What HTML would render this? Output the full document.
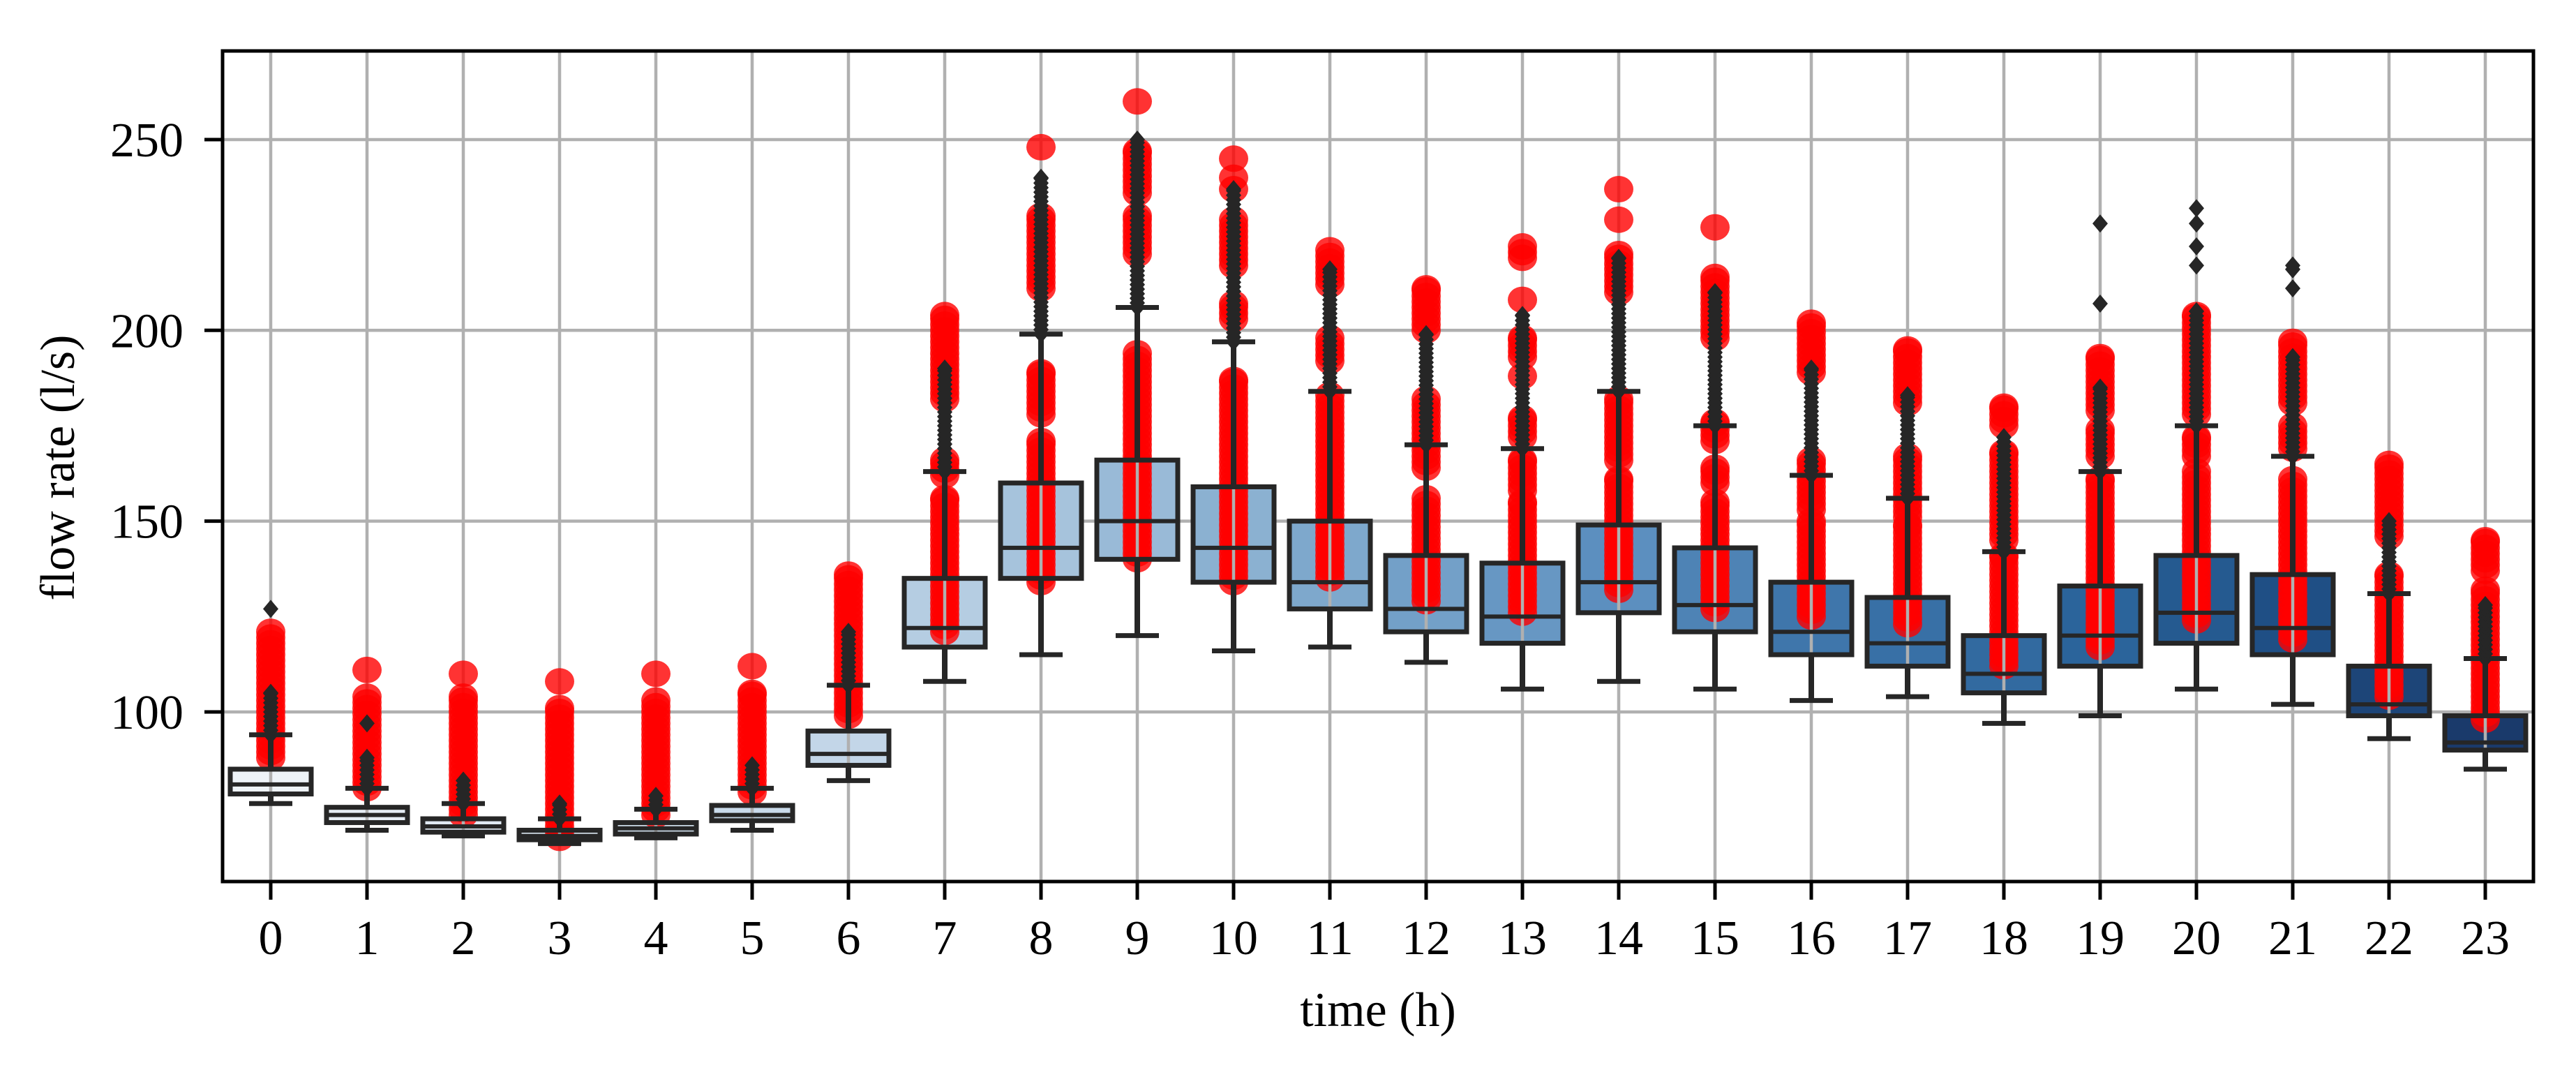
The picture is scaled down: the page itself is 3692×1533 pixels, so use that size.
<!DOCTYPE html>
<html><head><meta charset="utf-8"><style>
body{margin:0;background:#fff}
svg{display:block;font-family:"Liberation Serif",serif}
</style></head><body>
<svg id="chart" width="3692" height="1533" viewBox="0 0 3692 1533" xmlns="http://www.w3.org/2000/svg">
<rect width="3692" height="1533" fill="#fff"/>
<g id="grid"></g>
<g id="boxes"></g>
<g id="reds"></g>
<g id="grid2"></g>
<g id="whisk"></g>
<g id="axes"></g>
</svg>
<script>
const hours=[0,1,2,3,4,5,6,7,8,9,10,11,12,13,14,15,16,17,18,19,20,21,22,23];
const q1=[78.5,71,68.5,66.5,68,71.5,86,117,135,140,134,127,121,118,126,121,115,112,105,112,118,115,99,90];
const med=[81,73,70,67.5,69.5,73,89,122,143,150,143,134,127,125,134,128,121,118,110,120,126,122,102,92];
const q3=[85,75,72,69,71,75.5,95,135,160,166,159,150,141,139,149,143,134,130,120,133,141,136,112,99];
const whLo=[76,69,67.5,65.5,67,69,82,108,115,120,116,117,113,106,108,106,103,104,97,99,106,102,93,85];
const whHi=[94,80,76,72,74.5,80,107,163,199,206,197,184,170,169,184,175,162,156,142,163,175,167,131,114];
const redSegs=[
 [[88,121]],
 [[80,104],[111,111]],
 [[73,104],[110,110]],
 [[67,101],[108,108]],
 [[73,103],[110,110]],
 [[79,105],[112,112]],
 [[99,136]],
 [[121,156],[162,166],[182,204]],
 [[134,171],[178,189],[211,230],[248,248]],
 [[140,194],[220,230],[236,247],[260,260]],
 [[134,187],[203,207],[217,229],[237,237],[240,240],[245,245]],
 [[135,183],[192,198],[212,221]],
 [[129,156],[164,182],[200,211]],
 [[126,155],[158,166],[172,177],[188,188],[193,198],[208,208],[219,222]],
 [[132,161],[166,182],[210,220],[229,229],[237,237]],
 [[127,155],[160,164],[171,176],[198,214],[227,227]],
 [[125,150],[153,166],[189,202]],
 [[123,149],[151,167],[181,195]],
 [[112,141],[145,168],[175,180]],
 [[117,161],[167,174],[179,193]],
 [[124,163],[167,172],[178,204]],
 [[119,161],[169,175],[181,197]],
 [[104,136],[146,165]],
 [[98,132],[137,145]]
];
const flHi=[105,88,82,76,78,86,121,190,240,250,237,216,199,204,219,210,190,183,172,185,205,193,150,128];
const flExtra=[[127],[97],[],[],[],[],[],[],[],[],[],[],[],[],[],[],[],[],[],[207,228],[217,222,228,232],[211,216,217],[],[]];
const yTicks=[100,150,200,250];

const X=i=>388+138*i;
const Y=v=>1020-(v-100)*5.467;
const NS="http://www.w3.org/2000/svg";
function mk(parent,tag,attrs){const e=document.createElementNS(NS,tag);for(const k in attrs)e.setAttribute(k,attrs[k]);document.getElementById(parent).appendChild(e);return e;}
const anchors=[[0,[238,243,248]],[6,[195,214,232]],[8,[166,195,220]],[11,[126,168,204]],[14,[92,143,191]],[16,[63,118,171]],[19,[43,100,155]],[21,[31,79,133]],[23,[26,58,107]]];
function col(i){for(let k=0;k<anchors.length-1;k++){const [a,ca]=anchors[k],[b,cb]=anchors[k+1];if(i>=a&&i<=b){const t=(i-a)/(b-a);return 'rgb('+ca.map((c,j)=>Math.round(c+(cb[j]-c)*t)).join(',')+')';}}}
const L=319,R=3631,T=73,B=1263;
hours.forEach((h,i)=>{const l=mk('grid','line',{x1:X(i),x2:X(i),y1:T,y2:B,stroke:'#b0b0b0','stroke-width':4.5});

});
yTicks.forEach(v=>{const l=mk('grid','line',{x1:L,x2:R,y1:Y(v),y2:Y(v),stroke:'#b0b0b0','stroke-width':4.5});

});
hours.forEach((h,i)=>{
  const bw=116;
  const b=mk('boxes','rect',{x:X(i)-bw/2,y:Y(q3[i]),width:bw,height:Y(q1[i])-Y(q3[i]),fill:col(i)});
  
  
  redSegs[i].forEach(s=>{
    const pts=[];for(let v=s[0];v<s[1];v+=1.5)pts.push(v);pts.push(s[1]);
    pts.forEach(v=>{const c=mk('reds','ellipse',{cx:X(i),cy:Y(v),rx:21,ry:19,fill:'rgba(255,0,0,0.8)'});
    
    });
  });
  const g2=mk('grid2','line',{x1:X(i),x2:X(i),y1:Y(q3[i]),y2:Y(q1[i]),stroke:'#b0b0b0','stroke-width':4.5});
  
  
  const wl=mk('whisk','line',{x1:X(i),x2:X(i),y1:Y(q3[i]),y2:Y(whHi[i]),stroke:'#262626','stroke-width':8});
  
  
  const wl2=mk('whisk','line',{x1:X(i),x2:X(i),y1:Y(q1[i]),y2:Y(whLo[i]),stroke:'#262626','stroke-width':8});
  
  
  [whHi[i],whLo[i]].forEach(v=>{const c=mk('whisk','line',{x1:X(i)-31,x2:X(i)+31,y1:Y(v),y2:Y(v),stroke:'#262626','stroke-width':7});
  
  });
  const bo=mk('whisk','rect',{x:X(i)-bw/2,y:Y(q3[i]),width:bw,height:Y(q1[i])-Y(q3[i]),fill:'none',stroke:'#262626','stroke-width':7});
  
  
  const m=mk('whisk','line',{x1:X(i)-bw/2,x2:X(i)+bw/2,y1:Y(med[i]),y2:Y(med[i]),stroke:'#262626','stroke-width':6});
  
  
  const fl=[];for(let v=whHi[i];v<=flHi[i];v+=1.2)fl.push(v);fl.push(flHi[i]);flExtra[i].forEach(v=>fl.push(v));
  fl.forEach(v=>{const d=mk('whisk','path',{d:`M${X(i)},${Y(v)-13}L${X(i)+11},${Y(v)}L${X(i)},${Y(v)+13}L${X(i)-11},${Y(v)}Z`,fill:'#262626'});
  
  });
  const t=mk('axes','line',{x1:X(i),x2:X(i),y1:B,y2:B+26,stroke:'#000','stroke-width':5});
  
  
  const tl=mk('axes','text',{x:X(i),y:1367,'font-size':70,'text-anchor':'middle',fill:'#000'});
  tl.textContent=h;
  
  
});
yTicks.forEach(v=>{
  const t=mk('axes','line',{x1:L-26,x2:L,y1:Y(v),y2:Y(v),stroke:'#000','stroke-width':5});
  
  
  const tl=mk('axes','text',{x:263,y:Y(v)+24,'font-size':70,'text-anchor':'end',fill:'#000'});
  tl.textContent=v;
  
  
});
const fr=mk('axes','rect',{x:L,y:T,width:R-L,height:B-T,fill:'none',stroke:'#000','stroke-width':5});


const xl=mk('axes','text',{x:(L+R)/2,y:1470,'font-size':70,'text-anchor':'middle',fill:'#000'});
xl.textContent='time (h)';


const yl=mk('axes','text',{x:0,y:0,'font-size':70,'text-anchor':'middle',fill:'#000',transform:'translate(106,670) rotate(-90)'});
yl.textContent='flow rate (l/s)';


</script>
</body></html>
